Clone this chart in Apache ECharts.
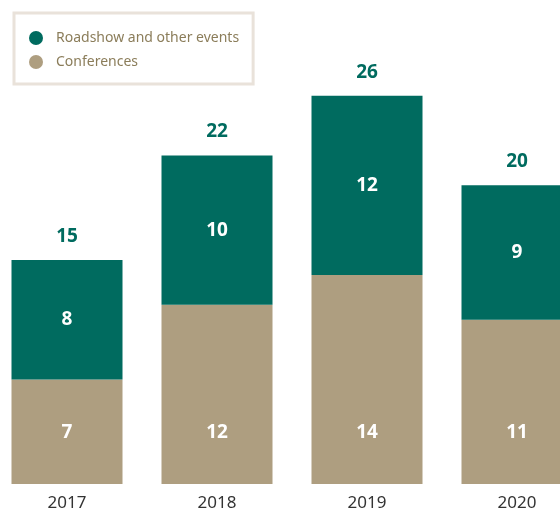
<!DOCTYPE html>
<html>
<head>
<meta charset="utf-8">
<script src="https://cdn.jsdelivr.net/npm/echarts@6/dist/echarts.min.js"></script>
<style>
  html, body { margin: 0; padding: 0; background: #fff; overflow: hidden; }
  body { width: 560px; height: 515px; position: relative; }
  /* the last column runs off the right edge in the original */
  #chart { width: 600px; height: 515px; position: absolute; left: -8px; top: 0; }
</style>
</head>
<body>
<div id="chart"></div>
<script>
// data
var years = ['2017', '2018', '2019', '2020'];
var roadshow = [8, 10, 12, 9];
var conferences = [7, 12, 14, 11];
var totals = years.map(function (y, i) { return roadshow[i] + conferences[i]; });

var teal = '#006b5f';
var tan = '#ae9e80';
var font = '"Noto Sans", sans-serif';

var chart = echarts.init(document.getElementById('chart'), null, { renderer: 'canvas' });

var option = {
    animation: false,
    legend: {
        left: 22,
        top: 13,
        orient: 'vertical',
        padding: [18, 14, 15, 15],
        borderColor: '#e9e2da',
        borderWidth: 3,
        itemWidth: 14,
        itemHeight: 14,
        itemGap: 10,
        icon: 'circle',
        textStyle: { color: '#8b7d5a', fontFamily: font, fontSize: 14, padding: [0, 0, 0, 8] },
        data: ['Roadshow and other events', 'Conferences']
    },
    grid: {
        left: 0,
        right: 0,
        top: 36,
        bottom: 31
    },
    xAxis: {
        type: 'category',
        data: years,
        axisLine: { show: false },
        axisTick: { show: false },
        axisLabel: { color: '#333', fontFamily: font, fontSize: 17, margin: 11 }
    },
    yAxis: {
        type: 'value',
        min: 0,
        max: 30,
        show: false,
        splitLine: { show: false }
    },
    series: [
        {
            name: 'Conferences',
            type: 'bar',
            stack: 'all',
            barWidth: 111,
            itemStyle: { color: tan },
            label: {
                show: true,
                position: 'insideBottom',
                distance: 42,
                color: '#fff',
                fontFamily: font,
                fontWeight: 'bold',
                fontSize: 19
            },
            data: conferences
        },
        {
            name: 'Roadshow and other events',
            type: 'bar',
            stack: 'all',
            barWidth: 111,
            itemStyle: { color: teal },
            label: {
                show: true,
                position: 'inside',
                color: '#fff',
                fontFamily: font,
                fontWeight: 'bold',
                fontSize: 19
            },
            data: roadshow
        },
        {
            // totals above each column
            name: 'total',
            type: 'bar',
            stack: 'all',
            barWidth: 111,
            itemStyle: { color: 'transparent' },
            label: {
                show: true,
                position: 'top',
                distance: 14,
                color: teal,
                fontFamily: font,
                fontWeight: 'bold',
                fontSize: 19,
                formatter: function (p) { return totals[p.dataIndex]; }
            },
            data: years.map(function () { return 0; })
        }
    ]
};

chart.setOption(option);
</script>
</body>
</html>
